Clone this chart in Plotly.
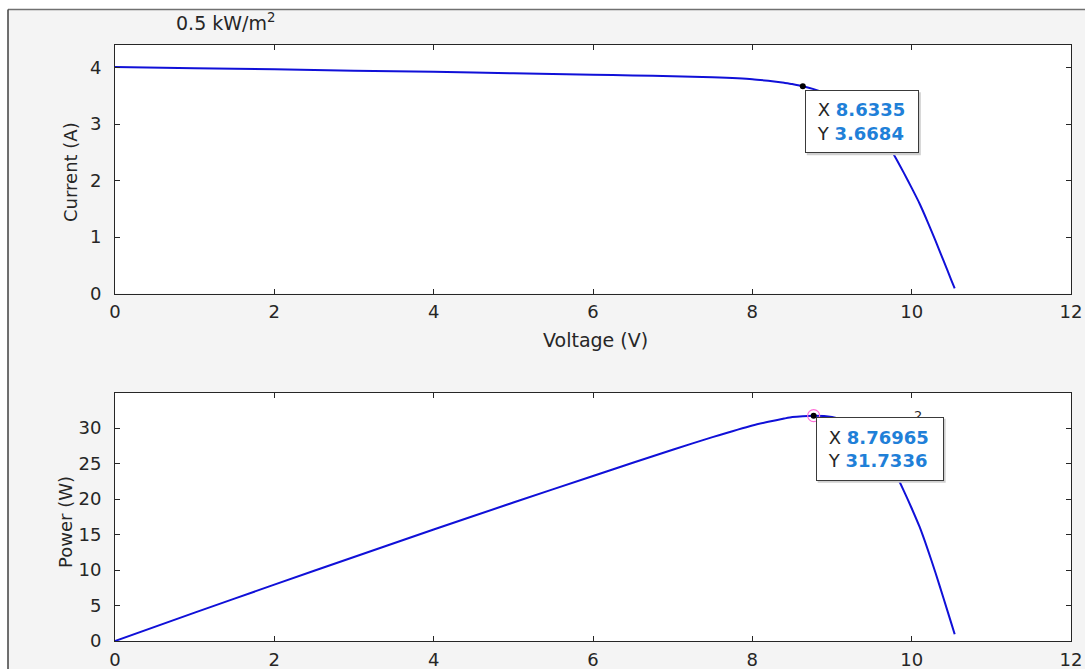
import plotly.graph_objects as go

# PV module characteristics at 0.5 kW/m^2
voltage = [0, 1, 2, 3, 4, 5, 6, 6.5, 7, 7.5, 8, 8.2, 8.4, 8.5, 8.6335, 8.76965,
           8.9, 9.0, 9.1, 9.2, 9.3, 9.4, 9.5, 9.6, 9.7, 9.8, 9.9, 10.0, 10.1,
           10.2, 10.3, 10.4, 10.5, 10.54]
current = [4.01, 3.99, 3.97, 3.945, 3.925, 3.90, 3.875, 3.862, 3.848, 3.828, 3.795,
           3.765, 3.73, 3.71, 3.6684, 3.6186, 3.56, 3.504, 3.437, 3.357, 3.26, 3.145,
           3.005, 2.838, 2.638, 2.40, 2.14, 1.87, 1.59, 1.27, 0.93, 0.58, 0.23, 0.09]
power = [0, 3.99, 7.94, 11.835, 15.70, 19.50, 23.25, 25.10, 26.94, 28.71, 30.36,
         30.87, 31.33, 31.54, 31.671, 31.7336, 31.68, 31.54, 31.28, 30.88, 30.32,
         29.56, 28.55, 27.24, 25.59, 23.52, 21.19, 18.70, 16.06, 12.95, 9.58, 6.03,
         2.415, 0.95]

# data tips
tip_iv = (8.6335, 3.6684)
tip_pv = (8.76965, 31.7336)

x_ticks = [0, 2, 4, 6, 8, 10, 12]
i_ticks = [0, 1, 2, 3, 4]
p_ticks = [0, 5, 10, 15, 20, 25, 30]

W, H = 1085, 669
ML, MR, MT, MB = 115, 14, 45, 28
PW, PH = W - ML - MR, H - MT - MB


def fx(px):
    return (px - ML) / PW


def fy(py):
    return (H - MB - py) / PH


FONT = "DejaVu Sans"
INK = "#262626"
LINE = "#1010d8"
TIPBLUE = "#1f80d8"

fig = go.Figure()
fig.add_trace(go.Scatter(x=voltage, y=current, mode="lines",
                         line=dict(color=LINE, width=2, shape="spline", smoothing=0.5),
                         xaxis="x", yaxis="y", hoverinfo="skip"))
fig.add_trace(go.Scatter(x=voltage, y=power, mode="lines",
                         line=dict(color=LINE, width=2, shape="spline", smoothing=0.5),
                         xaxis="x2", yaxis="y2", hoverinfo="skip"))
# tip markers
fig.add_trace(go.Scatter(x=[tip_iv[0]], y=[tip_iv[1]], mode="markers",
                         marker=dict(color="black", size=6), xaxis="x", yaxis="y"))
fig.add_trace(go.Scatter(x=[tip_pv[0]], y=[tip_pv[1]], mode="markers",
                         marker=dict(color="rgba(0,0,0,0)", size=12,
                                     line=dict(color="#ff70d8", width=1.2)),
                         xaxis="x2", yaxis="y2"))
fig.add_trace(go.Scatter(x=[tip_pv[0]], y=[tip_pv[1]], mode="markers",
                         marker=dict(color="black", size=6), xaxis="x2", yaxis="y2"))

axis_common = dict(
    showline=True, mirror="ticks", linecolor=INK, linewidth=1,
    ticks="inside", ticklen=5, tickwidth=1, tickcolor=INK,
    showgrid=False, zeroline=False,
    tickfont=dict(family=FONT, size=18, color=INK),
)

top_dom = [fy(293.5), 1.0]
bot_dom = [0.0, fy(392.5)]

fig.update_layout(
    width=W, height=H,
    margin=dict(l=ML, r=MR, t=MT, b=MB, autoexpand=False),
    paper_bgcolor="#f4f4f4", plot_bgcolor="white",
    showlegend=False,
    xaxis=dict(axis_common, domain=[0, 1], range=[0, 12], tickvals=x_ticks,
               anchor="y", ticklabelstandoff=2),
    yaxis=dict(axis_common, domain=top_dom, range=[0, 4.4], tickvals=i_ticks,
               anchor="x", ticklabelstandoff=9),
    xaxis2=dict(axis_common, domain=[0, 1], range=[0, 12], tickvals=x_ticks,
                anchor="y2", ticklabelstandoff=2),
    yaxis2=dict(axis_common, domain=bot_dom, range=[0, 35], tickvals=p_ticks,
                anchor="x2", ticklabelstandoff=9),
)

# figure frame: white margin strips and border lines
shapes = [
    dict(type="rect", xref="paper", yref="paper", x0=fx(-5), x1=fx(W + 5),
         y0=fy(9.5), y1=fy(-5), fillcolor="white", line=dict(width=0)),
    dict(type="rect", xref="paper", yref="paper", x0=fx(-5), x1=fx(8),
         y0=fy(H + 5), y1=fy(-5), fillcolor="white", line=dict(width=0)),
    dict(type="line", xref="paper", yref="paper", x0=fx(8), x1=fx(W + 5),
         y0=fy(9.5), y1=fy(9.5), line=dict(color="#707070", width=1.5)),
    dict(type="line", xref="paper", yref="paper", x0=fx(8), x1=fx(8),
         y0=fy(9.5), y1=fy(H + 5), line=dict(color="#404040", width=1.5)),
]

ann = []
# title
ann.append(dict(xref="paper", yref="paper", x=fx(225), y=fy(22), showarrow=False,
                xanchor="center", yanchor="middle",
                text="0.5 kW/m<sup>2</sup>",
                font=dict(family=FONT, size=19, color=INK)))
# axis titles
ann.append(dict(xref="paper", yref="paper", x=fx(595), y=fy(340), showarrow=False,
                xanchor="center", yanchor="middle", text="Voltage (V)",
                font=dict(family=FONT, size=19, color=INK)))
ann.append(dict(xref="paper", yref="paper", x=fx(70), y=fy(172), showarrow=False,
                xanchor="center", yanchor="middle", text="Current (A)", textangle=-90,
                font=dict(family=FONT, size=18, color=INK)))
ann.append(dict(xref="paper", yref="paper", x=fx(65), y=fy(522), showarrow=False,
                xanchor="center", yanchor="middle", text="Power (W)", textangle=-90,
                font=dict(family=FONT, size=18, color=INK)))
# stray superscript peeking above the lower data tip
ann.append(dict(xref="paper", yref="paper", x=fx(918), y=fy(406), showarrow=False,
                xanchor="center", yanchor="top", text="2",
                font=dict(family=FONT, size=13, color=INK)))


def data_tip(xref, yref, pt, box_w, box_h, dx, dy):
    pad = 6
    inner_w = box_w - 2 * (1 + pad)
    inner_h = box_h - 2 * (1 + pad)
    txt = ("&nbsp;X <span style='color:%s'><b>%s</b></span><br>"
           "&nbsp;Y <span style='color:%s'><b>%s</b></span>"
           % (TIPBLUE, "%g" % pt[0], TIPBLUE, "%g" % pt[1]))
    # soft drop shadow, placed in pixels relative to the tip point
    shadow = dict(type="rect", xref=xref, yref=yref, xsizemode="pixel",
                  ysizemode="pixel", xanchor=pt[0], yanchor=pt[1],
                  x0=dx + 2, x1=dx + 2 + box_w, y0=dy - 2, y1=dy - 2 - box_h,
                  fillcolor="#cfcfcf", line=dict(width=0), layer="above")
    box = dict(xref=xref, yref=yref, x=pt[0], y=pt[1], showarrow=False,
               xanchor="left", yanchor="top", xshift=dx, yshift=dy,
               text=txt, align="left", valign="middle",
               width=inner_w, height=inner_h, borderpad=pad, borderwidth=1,
               bordercolor="#3a3a3a", bgcolor="white",
               font=dict(family=FONT, size=18, color=INK))
    return shadow, box


s1, b1 = data_tip("x", "y", tip_iv, 114, 63, 2, -4)
s2, b2 = data_tip("x2", "y2", tip_pv, 128, 64, 2, -1)
shapes += [s1, s2]
ann += [b1, b2]

fig.update_layout(shapes=shapes, annotations=ann)

fig.write_html("out.html")
